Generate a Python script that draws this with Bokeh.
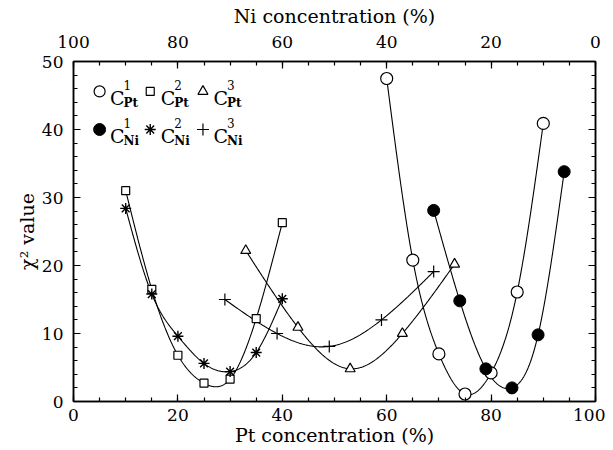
import numpy as np
from bokeh.plotting import figure
from bokeh.models import Range1d, LinearAxis, FixedTicker, Label
from bokeh.embed import file_html
from bokeh.resources import INLINE

# ---- data ----
pt1_x = [60, 65, 70, 75, 80, 85, 90]
pt1_y = [47.5, 20.8, 7.0, 1.1, 4.2, 16.1, 40.9]

pt2_x = [10, 15, 20, 25, 30, 35, 40]
pt2_y = [31.0, 16.5, 6.8, 2.7, 3.3, 12.2, 26.3]

pt3_x = [33, 43, 53, 63, 73]
pt3_y = [22.2, 10.9, 4.8, 10.0, 20.2]

ni1_x = [69, 74, 79, 84, 89, 94]
ni1_y = [28.1, 14.8, 4.8, 2.0, 9.8, 33.8]

ni2_x = [10, 15, 20, 25, 30, 35, 40]
ni2_y = [28.4, 15.8, 9.6, 5.6, 4.4, 7.2, 15.1]

ni3_x = [29, 39, 49, 59, 69]
ni3_y = [15.0, 10.0, 8.1, 12.0, 19.1]

x_ticks = [0, 20, 40, 60, 80, 100]
y_ticks = [0, 10, 20, 30, 40, 50]

SERIF = "DejaVu Serif"


def natural_spline(x, y, n=300):
    x = np.asarray(x, float)
    y = np.asarray(y, float)
    m = len(x)
    h = np.diff(x)
    A = np.zeros((m, m))
    r = np.zeros(m)
    A[0, 0] = 1.0
    A[-1, -1] = 1.0
    for i in range(1, m - 1):
        A[i, i - 1] = h[i - 1]
        A[i, i] = 2 * (h[i - 1] + h[i])
        A[i, i + 1] = h[i]
        r[i] = 6 * ((y[i + 1] - y[i]) / h[i] - (y[i] - y[i - 1]) / h[i - 1])
    M = np.linalg.solve(A, r)
    xs = np.linspace(x[0], x[-1], n)
    idx = np.clip(np.searchsorted(x, xs) - 1, 0, m - 2)
    x0, x1 = x[idx], x[idx + 1]
    hh = x1 - x0
    ys = (M[idx] * (x1 - xs) ** 3 / (6 * hh) + M[idx + 1] * (xs - x0) ** 3 / (6 * hh)
          + (y[idx] / hh - M[idx] * hh / 6) * (x1 - xs)
          + (y[idx + 1] / hh - M[idx + 1] * hh / 6) * (xs - x0))
    return xs, ys


p = figure(width=605, height=448, x_range=Range1d(0, 100), y_range=Range1d(0, 50),
           output_backend="svg", toolbar_location=None,
           min_border_left=73, min_border_right=10, min_border_top=61, min_border_bottom=44)
p.xgrid.visible = False
p.ygrid.visible = False
p.outline_line_color = "black"
p.outline_line_width = 1.5
p.background_fill_color = "white"
p.border_fill_color = "white"

minor_x = list(range(0, 101, 5))
minor_y = list(range(0, 51, 2))


def style_axis(ax, label=None):
    ax.axis_line_color = "black"
    ax.axis_line_width = 1.5
    ax.major_tick_in = 7
    ax.major_tick_out = 0
    ax.minor_tick_in = 4
    ax.minor_tick_out = 0
    ax.major_tick_line_color = "black"
    ax.minor_tick_line_color = "black"
    ax.major_tick_line_width = 1.2
    ax.minor_tick_line_width = 1.2
    ax.major_label_text_font = SERIF
    ax.major_label_text_font_size = "17px"
    ax.major_label_text_color = "black"
    ax.axis_label_text_font = SERIF
    ax.axis_label_text_font_size = "19px"
    ax.axis_label_text_font_style = "normal"
    ax.axis_label_text_color = "black"
    if label is not None:
        ax.axis_label = label


xa = p.xaxis[0]
xa.ticker = FixedTicker(ticks=x_ticks, minor_ticks=minor_x)
style_axis(xa, "Pt concentration (%)")
xa.major_label_standoff = 7
xa.axis_label_standoff = 0

ya = p.yaxis[0]
ya.ticker = FixedTicker(ticks=y_ticks, minor_ticks=minor_y)
style_axis(ya, "χ² value")
ya.major_label_standoff = 10
ya.axis_label_standoff = 1

p.extra_x_ranges = {"ni": Range1d(100, 0)}
top = LinearAxis(x_range_name="ni", ticker=FixedTicker(ticks=x_ticks, minor_ticks=minor_x))
style_axis(top, "Ni concentration (%)")
top.major_label_standoff = 14
top.axis_label_standoff = 6
p.add_layout(top, "above")

right = LinearAxis(ticker=FixedTicker(ticks=y_ticks, minor_ticks=minor_y))
style_axis(right)
right.major_label_overrides = {t: "" for t in y_ticks}
right.major_label_text_font_size = "1px"
right.major_label_standoff = 0
p.add_layout(right, "right")

# ---- curves ----
for xs_, ys_ in [(pt1_x, pt1_y), (pt2_x, pt2_y), (pt3_x, pt3_y),
                 (ni1_x, ni1_y), (ni2_x, ni2_y), (ni3_x, ni3_y)]:
    sx, sy = natural_spline(xs_, ys_)
    p.line(sx, sy, line_color="black", line_width=1.1)

# ---- markers ----
p.scatter(pt1_x, pt1_y, marker="circle", size=12, fill_color="white", line_color="black", line_width=1.2)
p.scatter(pt2_x, pt2_y, marker="square", size=8, fill_color="white", line_color="black", line_width=1.2)
p.scatter(pt3_x, pt3_y, marker="triangle", size=10, fill_color="white", line_color="black", line_width=1.2)
p.scatter(ni1_x, ni1_y, marker="circle", size=12, fill_color="black", line_color="black")
p.scatter(ni2_x, ni2_y, marker="asterisk", size=11, line_color="black", line_width=1.4)
p.scatter(ni3_x, ni3_y, marker="cross", size=12, line_color="black", line_width=1.2)

# ---- legend (manual, with super/subscripts) ----
leg_x = [5.0, 14.7, 24.8]
leg_y = [45.6, 40.0]
leg_markers = [
    [dict(marker="circle", size=11, fill_color="white", line_color="black", line_width=1.2),
     dict(marker="square", size=8, fill_color="white", line_color="black", line_width=1.2),
     dict(marker="triangle", size=10, fill_color="white", line_color="black", line_width=1.2)],
    [dict(marker="circle", size=12, fill_color="black", line_color="black"),
     dict(marker="asterisk", size=11, line_color="black", line_width=1.4),
     dict(marker="cross", size=12, line_color="black", line_width=1.2)],
]
leg_sup = ["1", "2", "3"]
leg_sub = ["Pt", "Ni"]

for r, yy in enumerate(leg_y):
    for c, xx in enumerate(leg_x):
        p.scatter([xx], [yy], **leg_markers[r][c])
        p.add_layout(Label(x=xx, y=yy, x_offset=10.5, y_offset=-6.5, text="C",
                           text_font=SERIF, text_font_size="19px", text_baseline="alphabetic",
                           text_align="left", text_color="black"))
        p.add_layout(Label(x=xx, y=yy, x_offset=24.0, y_offset=6.5, text=leg_sup[c],
                           text_font=SERIF, text_font_size="12px", text_baseline="alphabetic",
                           text_align="left", text_color="black"))
        p.add_layout(Label(x=xx, y=yy, x_offset=24.0, y_offset=-11.5, text=leg_sub[r],
                           text_font=SERIF, text_font_size="12px", text_font_style="bold",
                           text_baseline="alphabetic", text_align="left", text_color="black"))

open("out.html", "w").write(file_html(p, INLINE))
